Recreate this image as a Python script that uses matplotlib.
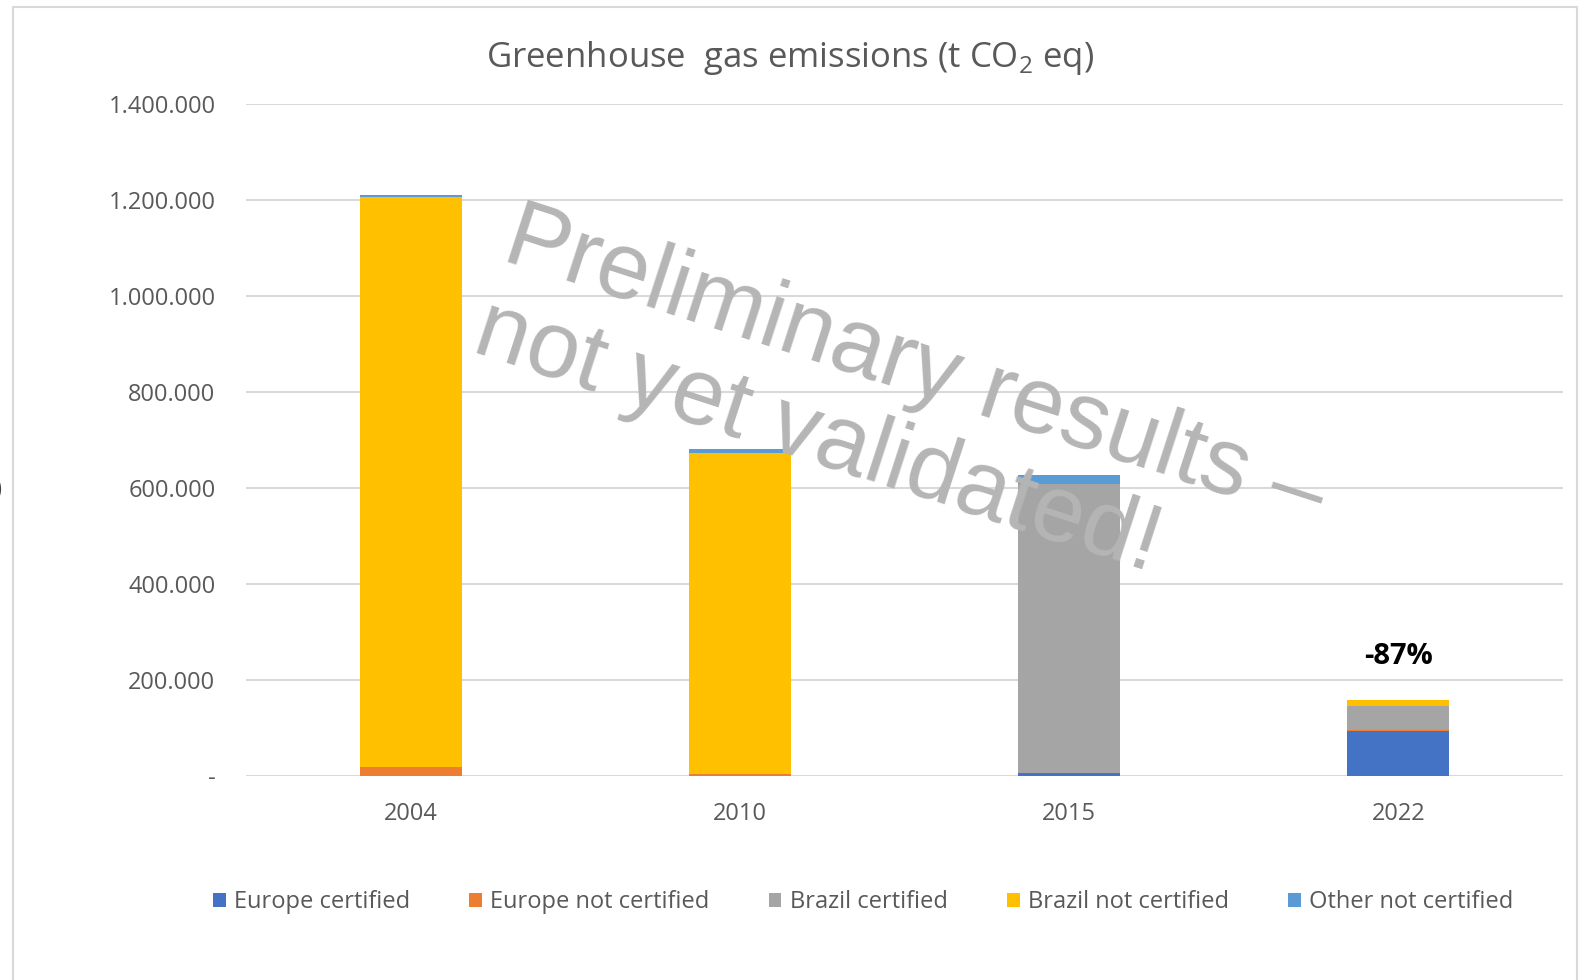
import matplotlib
matplotlib.use('Agg')

import matplotlib.pyplot as plt
import matplotlib.patches as mpatches
from matplotlib.ticker import FuncFormatter, MultipleLocator
import numpy as np

# === data ===
YEARS = ['2004', '2010', '2015', '2022']
EUROPE_CERT = [0, 0, 6000, 92000]
EUROPE_NOT_CERT = [18000, 3000, 0, 2000]
BRAZIL_CERT = [0, 0, 601000, 51000]
BRAZIL_NOT_CERT = [1189000, 670000, 0, 12500]
OTHER_NOT_CERT = [3000, 8000, 19500, 0]

SERIES_NAMES = ['Europe certified', 'Europe not certified', 'Brazil certified',
                'Brazil not certified', 'Other not certified']
COLORS = ['#4472C4', '#ED7D31', '#A5A5A5', '#FFC000', '#5B9BD5']
CHANGE_LABEL = '-87%'
# =====================================

plt.rcParams['font.family'] = ['Open Sans', 'DejaVu Sans']
plt.rcParams['mathtext.fontset'] = 'custom'
plt.rcParams['mathtext.rm'] = 'Open Sans'

TXT = '#595959'

fig = plt.figure(figsize=(15.85, 9.8), dpi=100)
fig.patch.set_facecolor('white')
ax = fig.add_axes([246 / 1585, 1 - 775.5 / 980, (1563 - 246) / 1585, (775.5 - 104) / 980])

x = np.arange(len(YEARS))
bottom = np.zeros(len(YEARS))
series = [EUROPE_CERT, EUROPE_NOT_CERT, BRAZIL_CERT, BRAZIL_NOT_CERT, OTHER_NOT_CERT]
for vals, name, col in zip(series, SERIES_NAMES, COLORS):
    vals = np.array(vals, dtype=float)
    ax.bar(x, vals, bottom=bottom, width=0.31, color=col, label=name, zorder=3)
    bottom += vals

ax.set_xlim(-0.5, len(YEARS) - 0.5)
ax.set_ylim(0, 1400000)
ax.yaxis.set_major_locator(MultipleLocator(200000))
ax.yaxis.set_major_formatter(FuncFormatter(
    lambda v, p: '-' if v == 0 else f'{int(v):,}'.replace(',', '.')))
ax.set_xticks(x)
ax.set_xticklabels(YEARS)
ax.tick_params(axis='y', length=0, pad=22, labelsize=17, labelcolor=TXT)
ax.tick_params(axis='x', length=0, pad=19, labelsize=17, labelcolor=TXT)
ax.grid(axis='y', color='#d9d9d9', linewidth=1.5, zorder=0)
for s in ax.spines.values():
    s.set_visible(False)

# change label above the last bar
ax.annotate(CHANGE_LABEL, xy=(x[-1], bottom[-1]), xytext=(0, 31),
            textcoords='offset points', ha='center', va='center',
            fontsize=21, fontweight='bold', color='black', zorder=6)

# title
fig.text(0.4985, 1 - 58 / 980, 'Greenhouse  gas emissions (t CO$_2$ eq)',
         ha='center', va='center', fontsize=25, color=TXT)

# watermark
fig.text(900 / 1585, 1 - 414 / 980, 'Preliminary results \u2013\nnot yet validated!',
         ha='center', va='center', multialignment='left', rotation=-18,
         rotation_mode='anchor', fontsize=68, linespacing=1.1,
         family=['Liberation Sans', 'DejaVu Sans'], color='#b5b5b5', zorder=10)

# legend
leg = ax.legend(loc='center', bbox_to_anchor=(863 / 1585, 1 - 902 / 980),
                bbox_transform=fig.transFigure, ncol=5, frameon=False,
                fontsize=17, handlelength=0.55, handleheight=0.55,
                handletextpad=0.35, columnspacing=2.5, borderaxespad=0)
for t in leg.get_texts():
    t.set_color(TXT)

# outer chart border
fig.patches.append(mpatches.Rectangle((13 / 1585, -0.05), (1577 - 13) / 1585, 1.05 - 7 / 980,
                                      transform=fig.transFigure, fill=False,
                                      edgecolor='#d9d9d9', linewidth=1.5))
fig.text(-0.004, 1 - 490 / 980, ')', fontsize=20, color='#404040', va='center')

fig.savefig('out.png', dpi=100, facecolor='white')
